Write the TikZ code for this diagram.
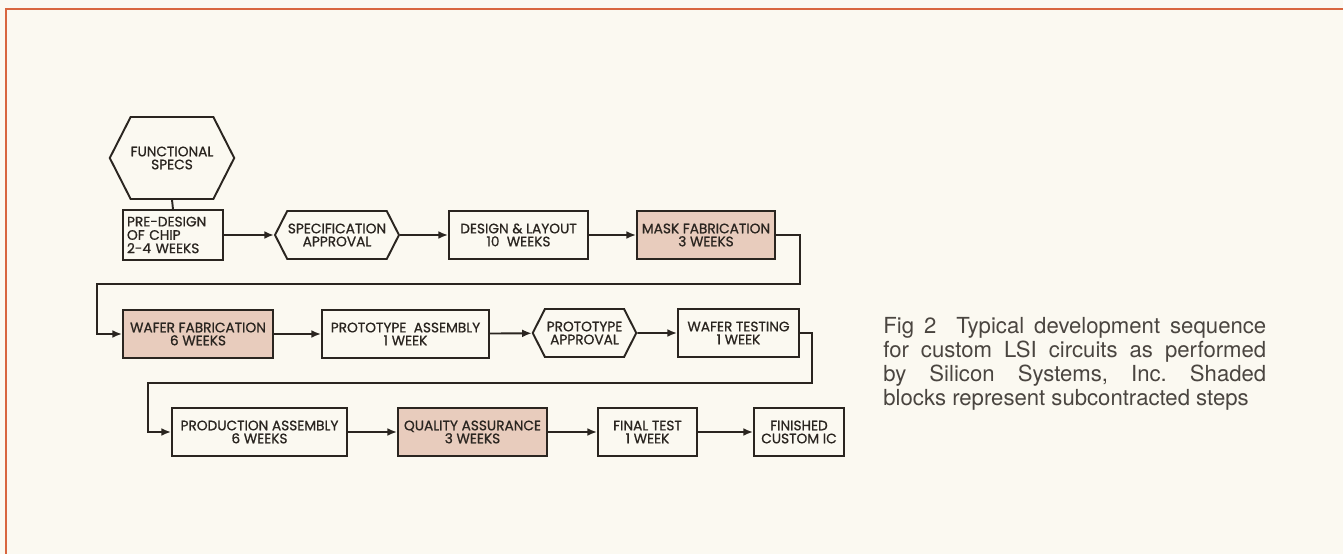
\documentclass[tikz,border=0pt]{standalone}
\usepackage{fontspec}
\setmainfont{TeX Gyre Heros}
\newfontfamily\boxfont[FakeBold=0.8]{Poppins}
\usetikzlibrary{arrows.meta,shapes.symbols}

\definecolor{paper}{HTML}{FBF9F1}
\definecolor{frame}{HTML}{D8663F}
\definecolor{ink}{HTML}{2A2520}
\definecolor{subc}{HTML}{E8CCBD}
\definecolor{captext}{HTML}{4A4540}

\tikzset{
  blk/.style={draw=ink, line width=1.1pt, fill=paper, minimum height=0.96cm,
    inner sep=1pt, align=center, text=ink,
    font=\boxfont\fontsize{7.8}{7.4}\selectfont},
  shd/.style={blk, fill=subc},
  hexa/.style={blk, shape=signal, signal to=east and west, signal pointer angle=126},
  arr/.style={draw=ink, line width=1.1pt, -{Latex[length=5.5pt,width=4.5pt]}},
  lnk/.style={draw=ink, line width=1.1pt}
}

\begin{document}
\begin{tikzpicture}[x=0.02cm,y=-0.02cm,line join=miter]

% paper and frame
\fill[paper] (0,0) rectangle (1343,554);
\useasboundingbox (0,0) rectangle (1343,554);
\draw[frame, line width=1.6pt] (6,554) -- (6,9) -- (1343,9);

% first row
\node[hexa, minimum width=1.96cm, minimum height=1.64cm, inner sep=0pt] (fspec) at (172,158) {FUNCTIONAL\\SPECS};
\node[blk, minimum width=2.0cm, minimum height=1.0cm, text width=1.84cm, align=left,
  font=\boxfont\fontsize{7.8}{7.6}\selectfont] (pre) at (173,235) {PRE-DESIGN\\OF CHIP\\2-4 WEEKS};
\node[hexa, minimum width=2.48cm, inner sep=0pt] (spec) at (337,235) {SPECIFICATION\\APPROVAL};
\node[blk, minimum width=2.78cm] (design) at (518.5,235) {DESIGN \& LAYOUT\\10\ \ WEEKS};
\node[shd, minimum width=2.76cm] (mask) at (706,235) {MASK FABRICATION\\3 WEEKS};

% second row
\node[shd, minimum width=3.0cm] (wafer) at (198,334) {WAFER FABRICATION\\6 WEEKS};
\node[blk, minimum width=3.34cm] (proto) at (405.5,334) {PROTOTYPE\ \ ASSEMBLY\\1 WEEK};
\node[hexa, minimum width=1.9cm] (papp) at (584.5,333) {PROTOTYPE\\APPROVAL};
\node[blk, minimum width=2.42cm] (wtest) at (738.5,333) {WAFER TESTING\\1 WEEK};

% third row
\node[blk, minimum width=3.5cm] (prod) at (259.5,432) {PRODUCTION ASSEMBLY\\6 WEEKS};
\node[shd, minimum width=2.98cm] (qa) at (472.5,432) {QUALITY ASSURANCE\\3 WEEKS};
\node[blk, minimum width=1.98cm] (ftest) at (647.5,432) {FINAL TEST\\1 WEEK};
\node[blk, minimum width=1.8cm] (fin) at (799,432) {FINISHED\\CUSTOM IC};

% turning points
\coordinate (r1) at (800,284);
\coordinate (l1) at (97,284);
\coordinate (r2) at (812,383);
\coordinate (l2) at (148,383);

% connectors
\draw[lnk] (fspec.south) -- (pre.north);
\draw[arr] (pre) -- (spec);
\draw[arr] (spec) -- (design);
\draw[arr] (design) -- (mask);
\draw[arr] (mask.east) -| (r1) -- (l1) |- (wafer.west);
\draw[arr] (wafer) -- (proto);
\draw[arr] (proto) -- (papp);
\draw[arr] (papp) -- (wtest);
\draw[arr] (wtest.east) -| (r2) -- (l2) |- (prod.west);
\draw[arr] (prod) -- (qa);
\draw[arr] (qa) -- (ftest);
\draw[arr] (ftest) -- (fin);

% caption
\node[anchor=north west, inner sep=0pt, text width=7.66cm, align=justify, text=captext,
  font=\fontsize{12.6}{13.6}\selectfont] (cap) at (883,317)
  {\frenchspacing\parfillskip=0pt Fig 2\hspace{0.9em}Typical development sequence\linebreak
   for custom LSI circuits as performed\linebreak
   by Silicon Systems, Inc. Shaded\linebreak
   blocks represent subcontracted steps};

\end{tikzpicture}
\end{document}
